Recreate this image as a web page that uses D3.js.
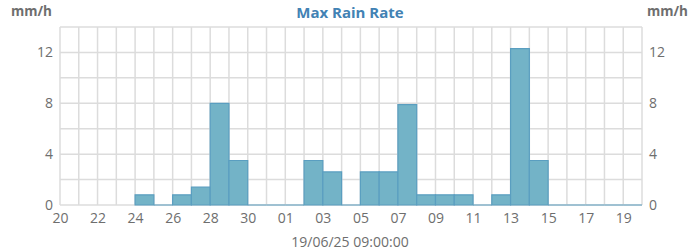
<!DOCTYPE html>
<html>
<head>
<meta charset="utf-8">
<script src="https://cdn.jsdelivr.net/npm/d3@7"></script>
<style>
  body { margin: 0; background: #fff; }
  text { font-family: "Open Sans", sans-serif; }
</style>
</head>
<body>
<div id="chart"></div>
<script>
// one value per day, null where no data was recorded
var days = [
    "2025-05-20","2025-05-21","2025-05-22","2025-05-23","2025-05-24","2025-05-25",
    "2025-05-26","2025-05-27","2025-05-28","2025-05-29","2025-05-30","2025-05-31",
    "2025-06-01","2025-06-02","2025-06-03","2025-06-04","2025-06-05","2025-06-06",
    "2025-06-07","2025-06-08","2025-06-09","2025-06-10","2025-06-11","2025-06-12",
    "2025-06-13","2025-06-14","2025-06-15","2025-06-16","2025-06-17","2025-06-18",
    "2025-06-19"
];
var rainRate = [
    null, null, null, null, 0.8, 0,
    0.8, 1.4, 8.0, 3.5, 0, 0,
    0, 3.5, 2.6, 0, 2.6, 2.6,
    7.9, 0.8, 0.8, 0.8, 0, 0.8,
    12.3, 3.5, 0, 0, 0, 0,
    0
];
var xTickDays = [
    "2025-05-20","2025-05-22","2025-05-24","2025-05-26","2025-05-28","2025-05-30",
    "2025-06-01","2025-06-03","2025-06-05","2025-06-07","2025-06-09","2025-06-11",
    "2025-06-13","2025-06-15","2025-06-17","2025-06-19"
];
var yTicks = [0, 4, 8, 12];
var yGrid = [0, 2, 4, 6, 8, 10, 12, 14];
var title = "Max Rain Rate";
var unit = "mm/h";
var footer = "19/06/25 09:00:00";

var width = 700,
    height = 250,
    margin = {top: 27, right: 58, bottom: 45, left: 60};

var parse = d3.utcParse("%Y-%m-%d");
var data = days.map((d, i) => ({date: parse(d), value: rainRate[i]}));

var svg = d3.select("#chart")
    .append("svg")
    .attr("width", width)
    .attr("height", height);

var xScale = d3.scaleUtc()
    .domain([parse(days[0]), d3.utcDay.offset(parse(days[days.length - 1]), 1)])
    .range([margin.left, width - margin.right]);
var yScale = d3.scaleLinear()
    .domain([0, 14])
    .range([height - margin.bottom, margin.top]);

// grid
var gridDays = d3.utcDay.range(xScale.domain()[0], d3.utcDay.offset(xScale.domain()[1], 1));
svg.append("g")
    .selectAll("line")
    .data(gridDays)
    .enter().append("line")
    .attr("x1", d => xScale(d)).attr("x2", d => xScale(d))
    .attr("y1", yScale(0)).attr("y2", yScale(14))
    .attr("stroke", "#dcdcdc")
    .attr("stroke-width", 1.5);
svg.append("g")
    .selectAll("line")
    .data(yGrid)
    .enter().append("line")
    .attr("x1", margin.left).attr("x2", width - margin.right)
    .attr("y1", d => yScale(d)).attr("y2", d => yScale(d))
    .attr("stroke", "#dcdcdc")
    .attr("stroke-width", 1.5);

// bars
svg.append("g")
    .selectAll("path")
    .data(data.filter(d => d.value !== null))
    .enter().append("path")
    .attr("d", d => {
        var x0 = xScale(d.date), x1 = xScale(d3.utcDay.offset(d.date, 1));
        var y0 = yScale(0), y1 = yScale(d.value);
        return `M${x0},${y0}V${y1}H${x1}V${y0}Z`;
    })
    .attr("fill", "#73b3c7")
    .attr("stroke", "#5a9ec0")
    .attr("stroke-width", 1.2);

// axes
var fmt = d3.utcFormat("%d");
var xAxis = d3.axisBottom(xScale)
    .tickValues(xTickDays.map(parse))
    .tickFormat(fmt)
    .tickSize(0)
    .tickPadding(8);
var gx = svg.append("g")
    .attr("transform", `translate(0,${yScale(0)})`)
    .call(xAxis);
gx.select(".domain").remove();

var yLeft = d3.axisLeft(yScale).tickValues(yTicks).tickSize(0).tickPadding(7);
var gyl = svg.append("g").attr("transform", `translate(${margin.left},0)`).call(yLeft);
gyl.select(".domain").remove();

var yRight = d3.axisRight(yScale).tickValues(yTicks).tickSize(0).tickPadding(7);
var gyr = svg.append("g").attr("transform", `translate(${width - margin.right},0)`).call(yRight);
gyr.select(".domain").remove();

svg.selectAll(".tick text")
    .attr("font-family", "Open Sans, sans-serif")
    .attr("font-size", 14)
    .attr("fill", "#6e6e6e");

// titles
svg.append("text")
    .attr("x", 350).attr("y", 17.5)
    .attr("text-anchor", "middle")
    .attr("font-size", 15)
    .attr("font-weight", "bold")
    .attr("fill", "#4282b4")
    .text(title);

svg.append("text")
    .attr("x", 11).attr("y", 15.5)
    .attr("font-size", 13.5)
    .attr("font-weight", "bold")
    .attr("fill", "#6e6e6e")
    .text(unit);
svg.append("text")
    .attr("x", 688).attr("y", 15.5)
    .attr("text-anchor", "end")
    .attr("font-size", 13.5)
    .attr("font-weight", "bold")
    .attr("fill", "#6e6e6e")
    .text(unit);

svg.append("text")
    .attr("x", 350).attr("y", 247)
    .attr("text-anchor", "middle")
    .attr("font-size", 14)
    .attr("fill", "#6e6e6e")
    .text(footer);
</script>
</body>
</html>
